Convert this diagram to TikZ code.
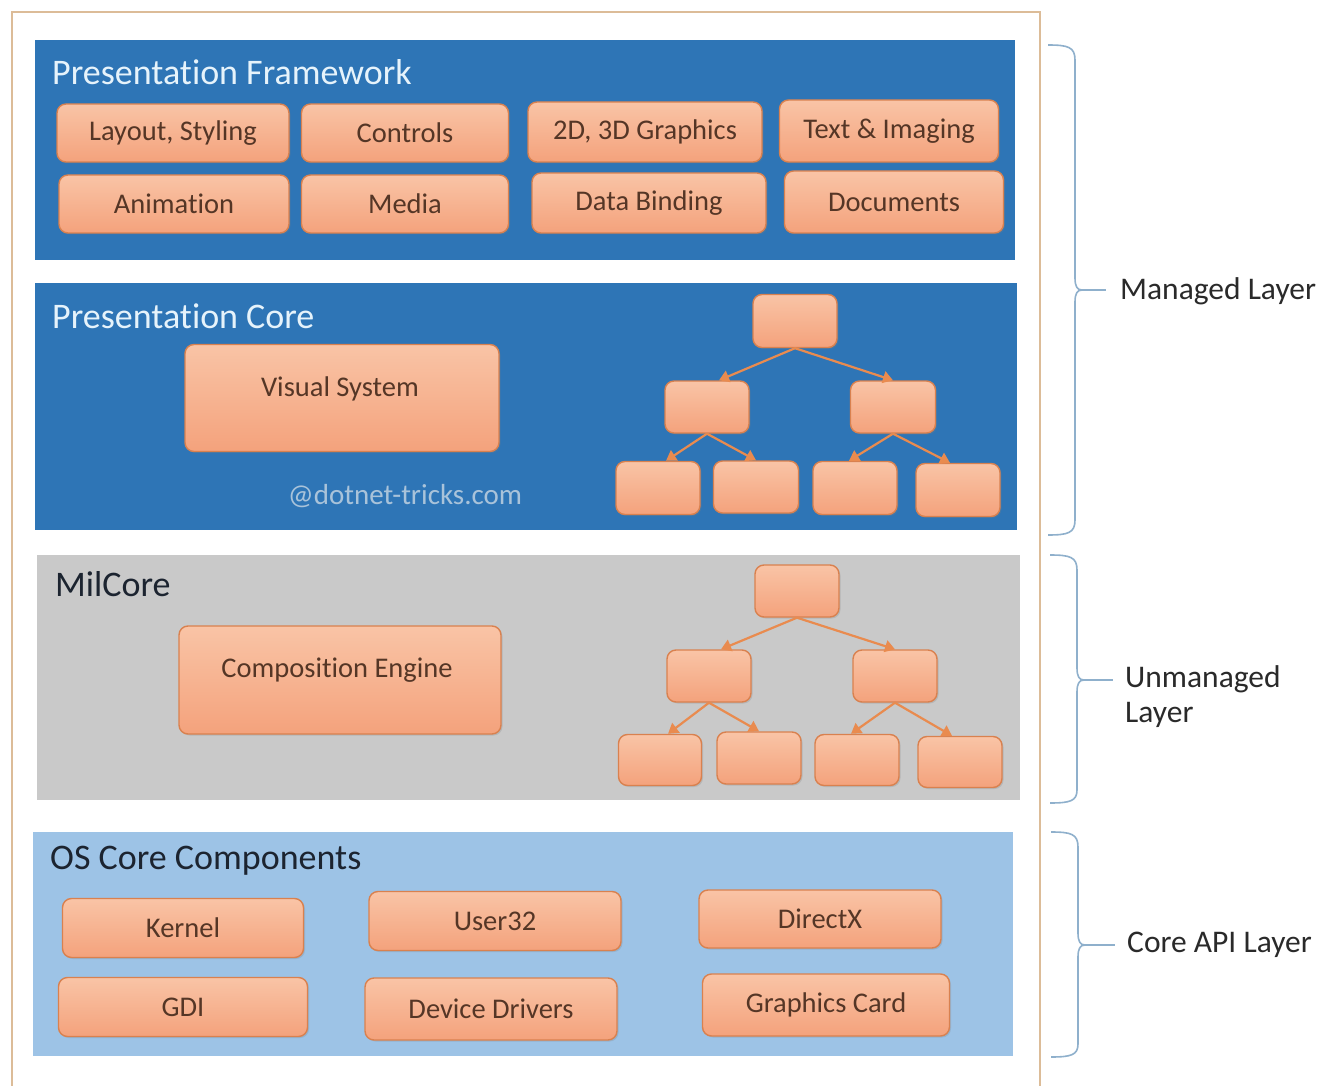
\documentclass[tikz,border=0pt]{standalone}
\usepackage{fontspec}
\setmainfont{Carlito}[Ligatures={NoCommon}]
\usetikzlibrary{arrows.meta,shadows,calc}
\definecolor{pfblue}{HTML}{2E75B6}
\definecolor{milgray}{HTML}{C9C9C9}
\definecolor{oslight}{HTML}{9DC3E6}
\definecolor{boxtop}{HTML}{F9C4A6}
\definecolor{boxbot}{HTML}{F4A27C}
\definecolor{boxline}{HTML}{D9814F}
\definecolor{boxtext}{HTML}{553626}
\definecolor{frame}{HTML}{DCBC98}
\definecolor{bracecol}{HTML}{8FB0CC}
\definecolor{arrowcol}{HTML}{E98B4F}
\definecolor{wmark}{HTML}{A9C3DA}
\definecolor{headlight}{HTML}{E6F3FB}
\definecolor{headdark}{HTML}{1C2430}
\definecolor{labcol}{HTML}{2A2A2A}
\begin{document}
\begin{tikzpicture}[x=1pt,y=-1pt,
  obox/.style={draw=boxline, line width=1.4pt, rounded corners=9pt,
    top color=boxtop, bottom color=boxbot, inner sep=0pt, text=boxtext,
    font=\fontsize{28.5}{31}\selectfont,
    drop shadow={shadow xshift=1.5pt, shadow yshift=-1.5pt, opacity=0.25}},
  head/.style={anchor=west, inner sep=0pt, font=\fontsize{36}{40}\selectfont},
  tarrow/.style={draw=arrowcol, line width=2.2pt, -{Triangle[length=10pt,width=12pt]}},
  bracepath/.style={draw=bracecol, line width=1.6pt},
  side/.style={anchor=west, inner sep=0pt, text=labcol, font=\fontsize{31.5}{36}\selectfont, align=left}
]
\fill[white] (0,0) rectangle (1331,1086);
\useasboundingbox (0,0) rectangle (1331,1086);
\clip (0,0) rectangle (1331,1086);
% outer frame
\draw[frame, line width=2pt] (12,12) rectangle (1040,1110);

% layers
\fill[pfblue] (35,40) rectangle (1015,260);
\fill[pfblue] (35,283) rectangle (1017,530);
\fill[milgray] (37,555) rectangle (1020,800);
\fill[oslight] (33,832) rectangle (1013,1056);

% headings
\node[head, text=headlight] (hpf) at (52,72) {Presentation Framework};
\node[head, text=headlight] (hpc) at (52,316) {Presentation Core};
\node[head, text=headdark] (hmc) at (55,584) {MilCore};
\node[head, text=headdark] (hos) at (50,861) {OS Core Components};

% Presentation Framework boxes
\node[obox, minimum width=232pt, minimum height=58pt] (lay) at (173,133) {Layout, Styling};
\node[obox, minimum width=207pt, minimum height=58pt] (ctl) at (405,133) {Controls};
\node[obox, minimum width=234pt, minimum height=60pt] (g2d) at (645,132) {2D, 3D Graphics};
\node[obox, minimum width=219pt, minimum height=62pt] (txt) at (889,131) {Text \& Imaging};
\node[obox, minimum width=230pt, minimum height=58pt] (ani) at (174,204) {Animation};
\node[obox, minimum width=207pt, minimum height=58pt] (med) at (405,204) {Media};
\node[obox, minimum width=234pt, minimum height=60pt] (dat) at (649,203) {Data Binding};
\node[obox, minimum width=219pt, minimum height=62pt] (doc) at (894,202) {Documents};

% Presentation Core
\node[obox, minimum width=314pt, minimum height=107pt] (vis) at (342,398) {};
\node[inner sep=0pt, text=boxtext, font=\fontsize{28.5}{31}\selectfont] (vist) at (340,389) {Visual System};
\node[inner sep=0pt, text=wmark, font=\fontsize{29}{31}\selectfont] (wm) at (405,496) {@dotnet-tricks.com};

\node[obox, minimum width=84pt, minimum height=53pt] (pct) at (795,321) {};
\node[obox, minimum width=84pt, minimum height=52pt] (pcl) at (707,407) {};
\node[obox, minimum width=85pt, minimum height=52pt] (pcr) at (893,407) {};
\node[obox, minimum width=84pt, minimum height=53pt] (pcb1) at (658,488) {};
\node[obox, minimum width=85pt, minimum height=52pt] (pcb2) at (756,487) {};
\node[obox, minimum width=84pt, minimum height=53pt] (pcb3) at (855,488) {};
\node[obox, minimum width=84pt, minimum height=53pt] (pcb4) at (958,490) {};
\draw[tarrow] (pct.south) -- ($(pcl.north)+(12,0)$);
\draw[tarrow] (pct.south) -- (pcr.north);
\draw[tarrow] (pcl.south) -- ($(pcb1.north)+(8,0)$);
\draw[tarrow] (pcl.south) -- (pcb2.north);
\draw[tarrow] (pcr.south) -- ($(pcb3.north)+(-6,0)$);
\draw[tarrow] (pcr.south) -- ($(pcb4.north)+(-8,0)$);

% MilCore
\node[obox, minimum width=322pt, minimum height=108pt] (cmp) at (340,680) {};
\node[inner sep=0pt, text=boxtext, font=\fontsize{28.5}{31}\selectfont] (cmpt) at (337,670) {Composition Engine};

\node[obox, minimum width=84pt, minimum height=52pt] (mct) at (797,591) {};
\node[obox, minimum width=84pt, minimum height=52pt] (mcl) at (709,676) {};
\node[obox, minimum width=84pt, minimum height=52pt] (mcr) at (895,676) {};
\node[obox, minimum width=83pt, minimum height=51pt] (mcb1) at (660,760) {};
\node[obox, minimum width=84pt, minimum height=52pt] (mcb2) at (759,758) {};
\node[obox, minimum width=84pt, minimum height=51pt] (mcb3) at (857,760) {};
\node[obox, minimum width=84pt, minimum height=51pt] (mcb4) at (960,762) {};
\draw[tarrow] (mct.south) -- ($(mcl.north)+(12,0)$);
\draw[tarrow] (mct.south) -- (mcr.north);
\draw[tarrow] (mcl.south) -- ($(mcb1.north)+(8,0)$);
\draw[tarrow] (mcl.south) -- (mcb2.north);
\draw[tarrow] (mcr.south) -- ($(mcb3.north)+(-6,0)$);
\draw[tarrow] (mcr.south) -- ($(mcb4.north)+(-8,0)$);

% OS Core
\node[obox, minimum width=241pt, minimum height=59pt] (ker) at (183,928) {Kernel};
\node[obox, minimum width=252pt, minimum height=59pt] (u32) at (495,921) {User32};
\node[obox, minimum width=242pt, minimum height=58pt] (dx) at (820,919) {DirectX};
\node[obox, minimum width=249pt, minimum height=59pt] (gdi) at (183,1007) {GDI};
\node[obox, minimum width=252pt, minimum height=62pt] (drv) at (491,1009) {Device Drivers};
\node[obox, minimum width=247pt, minimum height=62pt] (gfx) at (826,1005) {Graphics Card};

% braces
\draw[bracepath] (1048,45) .. controls (1068,45) and (1075,47) .. (1075,60) -- (1075,278)
  .. controls (1075,286) and (1077,290) .. (1082,290)
  .. controls (1077,290) and (1075,294) .. (1075,302) -- (1075,520)
  .. controls (1075,533) and (1068,535) .. (1048,535);
\draw[bracepath] (1082,290) -- (1106,290);
\node[side] (lman) at (1120,291) {Managed Layer};

\draw[bracepath] (1050,555) .. controls (1070,555) and (1077,557) .. (1077,570) -- (1077,668)
  .. controls (1077,676) and (1079,680) .. (1084,680)
  .. controls (1079,680) and (1077,684) .. (1077,692) -- (1077,790)
  .. controls (1077,801) and (1070,803) .. (1050,803);
\draw[bracepath] (1084,680) -- (1113,680);
\node[side] (lun) at (1125,697) {Unmanaged\\[-1pt]Layer};

\draw[bracepath] (1051,832) .. controls (1071,832) and (1078,834) .. (1078,847) -- (1078,933)
  .. controls (1078,941) and (1080,945) .. (1085,945)
  .. controls (1080,945) and (1078,949) .. (1078,957) -- (1078,1044)
  .. controls (1078,1055) and (1071,1057) .. (1051,1057);
\draw[bracepath] (1085,945) -- (1115,945);
\node[side] (lcore) at (1127,945) {Core API Layer};
\end{tikzpicture}
\end{document}
